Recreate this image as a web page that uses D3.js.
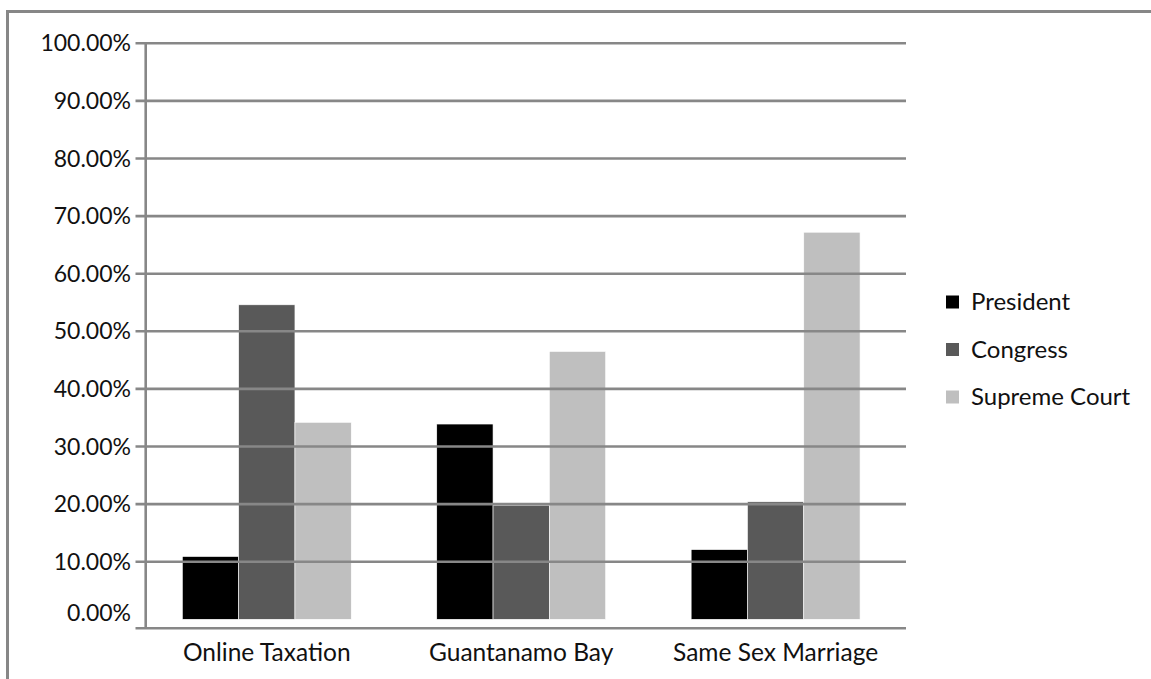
<!DOCTYPE html>
<html>
<head>
<meta charset="utf-8">
<script src="https://cdn.jsdelivr.net/npm/d3@7"></script>
<style>
  html, body { margin: 0; padding: 0; background: #fff; }
  svg text { font-family: "Lato", "Open Sans", sans-serif; fill: #111; }
</style>
</head>
<body>
<svg id="chart" width="1151" height="679"></svg>
<script>
// Share of respondents naming each branch, per issue (percent)
const categories = ["Online Taxation", "Guantanamo Bay", "Same Sex Marriage"];
const seriesNames = ["President", "Congress", "Supreme Court"];
const president = [10.9, 33.9, 12.1];
const congress = [54.6, 19.8, 20.4];
const supremeCourt = [34.2, 46.5, 67.2];
const yTicks = [0, 10, 20, 30, 40, 50, 60, 70, 80, 90, 100];
const seriesColors = ["#000000", "#595959", "#bfbfbf"];

const seriesValues = [president, congress, supremeCourt];
const rows = categories.map((c, i) => ({
  category: c,
  values: seriesNames.map((s, j) => ({ series: s, value: seriesValues[j][i], color: seriesColors[j] }))
}));

const W = 1151, H = 679;
const plot = { left: 139.6, right: 902.8, top: 43.3, bottom: 619.3 };
const axisX = 145.7, axisY = 628.3, gridLeft = 135.5, gridRight = 906;
const gridColor = "#878787";

const svg = d3.select("#chart");

// outer frame: only top and left edges fall inside the page
svg.append("path")
  .attr("d", `M7.5,${H} V11.5 H${W}`)
  .attr("fill", "none")
  .attr("stroke", gridColor)
  .attr("stroke-width", 3);

const x0 = d3.scaleBand()
  .domain(categories)
  .range([plot.left, plot.right])
  .paddingInner(0.336)
  .paddingOuter(0.168);

const x1 = d3.scaleBand()
  .domain(seriesNames)
  .range([0, x0.bandwidth()]);

const y = d3.scaleLinear().domain([0, 100]).range([plot.bottom, plot.top]);

// bars
const groups = svg.append("g").selectAll("g")
  .data(rows)
  .join("g")
  .attr("transform", d => `translate(${x0(d.category)},0)`);

groups.selectAll("rect")
  .data(d => d.values)
  .join("rect")
  .attr("x", d => x1(d.series))
  .attr("width", x1.bandwidth())
  .attr("y", d => y(d.value))
  .attr("height", d => y(0) - y(d.value))
  .attr("fill", d => d.color)
  .attr("stroke", "#ffffff")
  .attr("stroke-width", 0.6);

// horizontal gridlines (drawn over the bars), all but zero
svg.append("g").selectAll("line")
  .data(yTicks.filter(t => t > 0))
  .join("line")
  .attr("x1", gridLeft)
  .attr("x2", gridRight)
  .attr("y1", d => y(d))
  .attr("y2", d => y(d))
  .attr("stroke", gridColor)
  .attr("stroke-width", 2.6);

// value axis line and category axis line
svg.append("line")
  .attr("x1", axisX).attr("x2", axisX)
  .attr("y1", y(100)).attr("y2", axisY)
  .attr("stroke", gridColor).attr("stroke-width", 2.6);
svg.append("line")
  .attr("x1", gridLeft).attr("x2", gridRight)
  .attr("y1", axisY).attr("y2", axisY)
  .attr("stroke", gridColor).attr("stroke-width", 2.6);

// y tick labels
const fmt = d => d3.format(".2f")(d) + "%";
svg.append("g").selectAll("text")
  .data(yTicks)
  .join("text")
  .attr("x", 131)
  .attr("y", d => y(d) - (d === 0 ? 6 : 0))
  .attr("dy", "0.35em")
  .attr("text-anchor", "end")
  .attr("font-size", 23)
  .text(fmt);

// category labels
svg.append("g").selectAll("text")
  .data(categories)
  .join("text")
  .attr("x", d => x0(d) + x0.bandwidth() / 2)
  .attr("y", 652)
  .attr("dy", "0.35em")
  .attr("text-anchor", "middle")
  .attr("font-size", 24.5)
  .text(d => d);

// legend
const legend = svg.append("g").selectAll("g")
  .data(seriesNames)
  .join("g")
  .attr("transform", (d, i) => `translate(946,${302 + i * 47.5})`);
legend.append("rect")
  .attr("x", 0).attr("y", -6.5)
  .attr("width", 13).attr("height", 13)
  .attr("fill", (d, i) => seriesColors[i]);
legend.append("text")
  .attr("x", 25)
  .attr("y", 0)
  .attr("dy", "0.35em")
  .attr("font-size", 24)
  .text(d => d);
</script>
</body>
</html>
